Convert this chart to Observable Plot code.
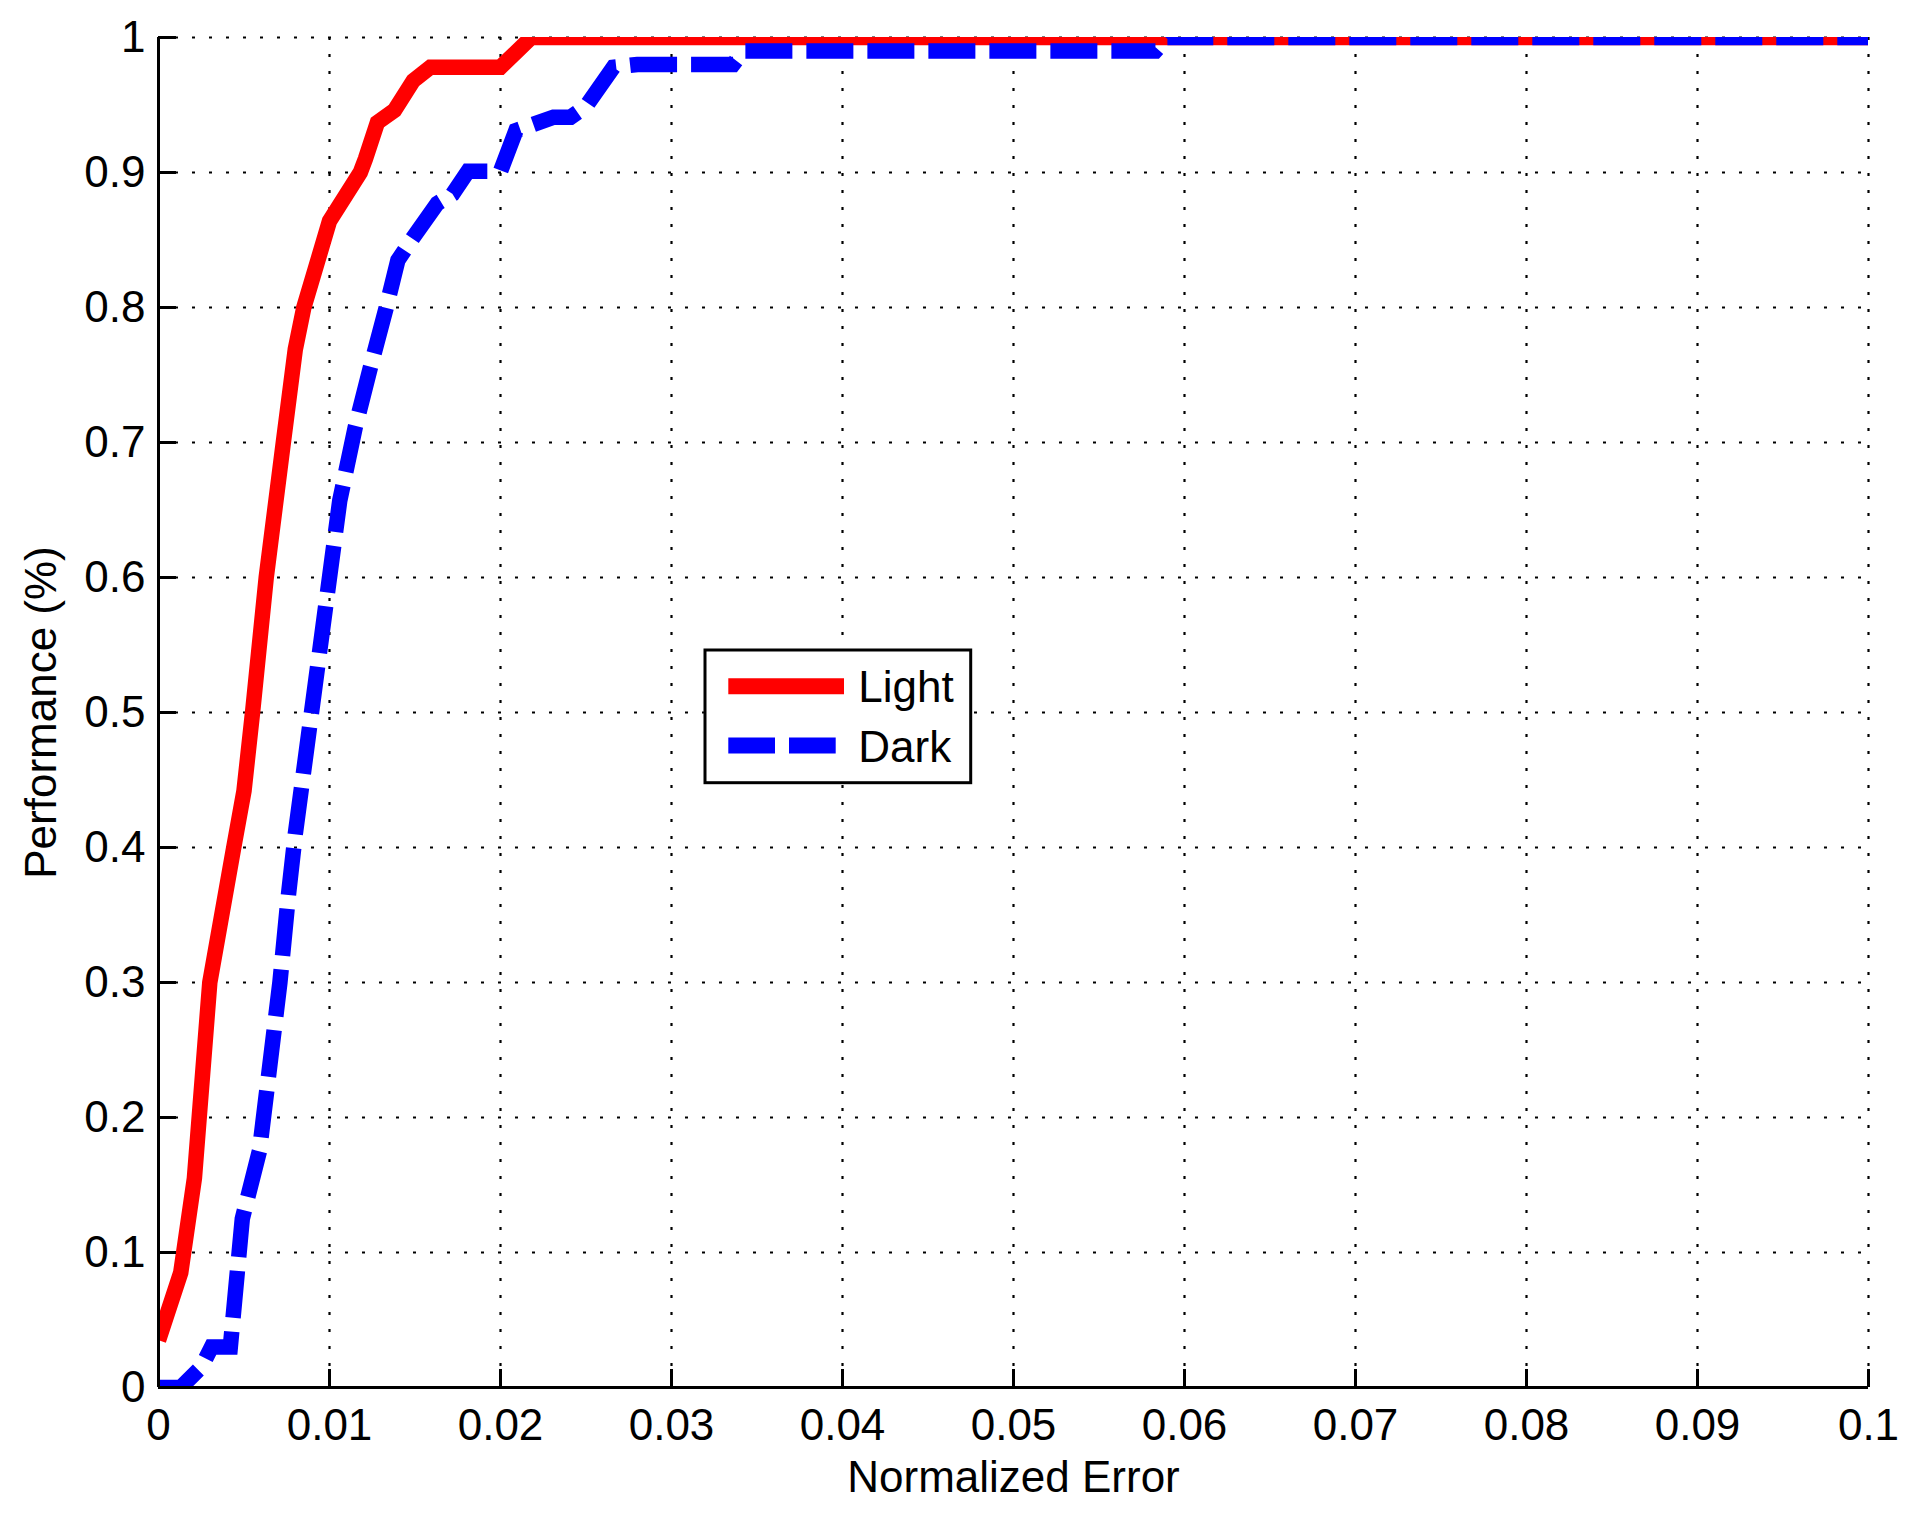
<!DOCTYPE html>
<html>
<head>
<meta charset="utf-8">
<script src="https://cdn.jsdelivr.net/npm/d3@7"></script>
<script src="https://cdn.jsdelivr.net/npm/@observablehq/plot@0.6"></script>
<style>
  html, body { margin: 0; padding: 0; background: white; }
  #wrap { position: relative; width: 1919px; height: 1516px; }
  #legend { position: absolute; left: 703px; top: 648px; }
</style>
</head>
<body>
<div id="wrap"></div>
<script>
// ---- data ----
const xTicks = [0, 0.01, 0.02, 0.03, 0.04, 0.05, 0.06, 0.07, 0.08, 0.09, 0.1];
const xTickLabels = ["0", "0.01", "0.02", "0.03", "0.04", "0.05", "0.06", "0.07", "0.08", "0.09", "0.1"];
const yTicks = [0, 0.1, 0.2, 0.3, 0.4, 0.5, 0.6, 0.7, 0.8, 0.9, 1];
const yTickLabels = ["0", "0.1", "0.2", "0.3", "0.4", "0.5", "0.6", "0.7", "0.8", "0.9", "1"];

const seriesNames = ["Light", "Dark"];

const lightX = [0, 0.0013, 0.0021, 0.0030, 0.0044, 0.0050, 0.0055, 0.0063, 0.0073, 0.0080, 0.0085, 0.0100, 0.0118, 0.0121, 0.0128, 0.0138, 0.0149, 0.0159, 0.0200, 0.0218, 0.1000];
const lightY = [0.035, 0.085, 0.155, 0.300, 0.400, 0.442, 0.500, 0.600, 0.700, 0.769, 0.800, 0.864, 0.900, 0.910, 0.937, 0.946, 0.968, 0.978, 0.978, 1.000, 1.000];

const darkX = [0, 0.0013, 0.0025, 0.0031, 0.0042, 0.0049, 0.0059, 0.0071, 0.0076, 0.0080, 0.0106, 0.0115, 0.0124, 0.0133, 0.0140, 0.0149, 0.0163, 0.0172, 0.0181, 0.0200, 0.0209, 0.0231, 0.0241, 0.0250, 0.0266, 0.0280, 0.0336, 0.0342, 0.0583, 0.0590, 0.1000];
const darkY = [0, 0, 0.015, 0.030, 0.030, 0.125, 0.175, 0.300, 0.365, 0.410, 0.657, 0.711, 0.756, 0.799, 0.835, 0.852, 0.877, 0.884, 0.901, 0.901, 0.931, 0.941, 0.941, 0.949, 0.978, 0.980, 0.980, 0.990, 0.990, 1.000, 1.000];

const light = lightX.map((x, i) => ({x, y: lightY[i]}));
const dark = darkX.map((x, i) => ({x, y: darkY[i]}));

// ---- layout ----
const W = 1919, H = 1516;
const mL = 158, mR = 51, mT = 37, mB = 129;
const plotW = W - mL - mR, plotH = H - mT - mB;
const tickLen = 18;
const FONT = "'Liberation Sans', Arial, Helvetica, sans-serif";
const gridStyle = {stroke: "black", strokeOpacity: 1, strokeWidth: 2.2, strokeDasharray: "3,14"};

const chart = Plot.plot({
  width: W, height: H,
  marginLeft: mL, marginRight: mR, marginTop: mT, marginBottom: mB,
  style: {fontFamily: FONT, fontSize: "44px", background: "white", color: "black", overflow: "visible"},
  x: {domain: [0, 0.1], ticks: xTicks, label: null},
  y: {domain: [0, 1], ticks: yTicks, label: null},
  marks: [
    Plot.gridX(xTicks, gridStyle),
    Plot.gridY(yTicks, gridStyle),
    Plot.line(light, {x: "x", y: "y", stroke: "#ff0000", strokeWidth: 15.5, strokeLinejoin: "miter", strokeMiterlimit: 4, strokeLinecap: "butt", clip: true}),
    Plot.line(dark, {x: "x", y: "y", stroke: "#0000ff", strokeWidth: 15.5, strokeLinejoin: "miter", strokeMiterlimit: 4, strokeLinecap: "butt", strokeDasharray: "47,14", clip: true}),
    Plot.tickX(xTicks, {x: d => d, stroke: "black", strokeWidth: 3, insetTop: plotH - tickLen}),
    Plot.tickY(yTicks, {y: d => d, stroke: "black", strokeWidth: 3, insetRight: plotW - tickLen}),
    Plot.ruleX([0], {stroke: "black", strokeWidth: 3}),
    Plot.ruleY([0], {stroke: "black", strokeWidth: 3}),
    Plot.axisX(xTicks, {tickSize: 0, tickPadding: 21, tickFormat: d => xTickLabels[xTicks.indexOf(d)], label: null, fontSize: 44, fill: "black"}),
    Plot.axisY(yTicks, {tickSize: 0, tickPadding: 13, tickFormat: d => yTickLabels[yTicks.indexOf(d)], label: null, fontSize: 44, fill: "black"}),
    Plot.text(["Normalized Error"], {text: d => d, frameAnchor: "bottom", dy: 90.6, lineAnchor: "middle", textAnchor: "middle", fontSize: 44, fill: "black"}),
    Plot.text(["Performance (%)"], {text: d => d, frameAnchor: "left", dx: -117, rotate: -90, lineAnchor: "middle", textAnchor: "middle", fontSize: 44, fill: "black"})
  ]
});
const wrap = document.getElementById("wrap");
wrap.appendChild(chart);

// ---- legend (inside the axes) ----
const ns = "http://www.w3.org/2000/svg";
const lg = document.createElementNS(ns, "svg");
lg.setAttribute("id", "legend");
lg.setAttribute("width", 272);
lg.setAttribute("height", 140);
lg.style.fontFamily = FONT;
function el(tag, attrs, text) {
  const e = document.createElementNS(ns, tag);
  for (const k in attrs) e.setAttribute(k, attrs[k]);
  if (text != null) e.textContent = text;
  lg.appendChild(e);
  return e;
}
el("rect", {x: 2, y: 2, width: 265.7, height: 132.7, fill: "white", stroke: "black", "stroke-width": 3});
el("line", {x1: 25.3, x2: 141, y1: 38.3, y2: 38.3, stroke: "#ff0000", "stroke-width": 16});
el("line", {x1: 25.3, x2: 133, y1: 97.5, y2: 97.5, stroke: "#0000ff", "stroke-width": 16, "stroke-dasharray": "46.7,14"});
el("text", {x: 155.3, y: 53.7, "font-size": 44, fill: "black"}, seriesNames[0]);
el("text", {x: 155.3, y: 113.7, "font-size": 44, fill: "black"}, seriesNames[1]);
wrap.appendChild(lg);
</script>
</body>
</html>
